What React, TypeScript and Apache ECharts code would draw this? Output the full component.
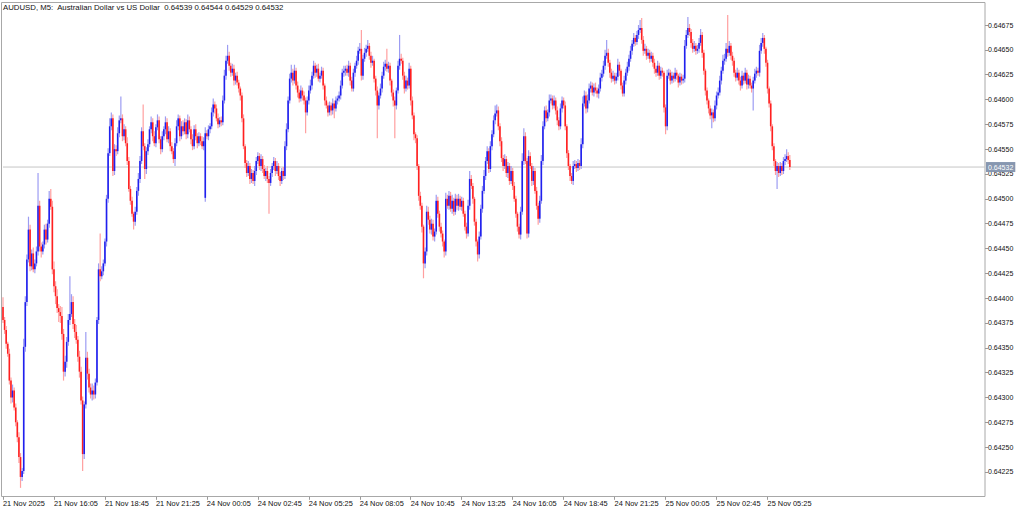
import React, { useEffect, useRef } from "react";
import * as echarts from "echarts";

// ---- data (prices in points, 1 point = 0.00001) ----
const TITLE = "AUDUSD, M5:  Australian Dollar vs US Dollar  0.64539 0.64544 0.64529 0.64532";
const FIRST_OPEN = 64391;
const MONDAY_OPEN = { index: 127, price: 64501 };

const closesPts = [
  64378, 64368, 64354, 64344, 64317, 64300, 64307, 64290, 64275, 64260,
  64240, 64220, 64226, 64351, 64396, 64439, 64469, 64432, 64445, 64429,
  64435, 64447, 64493, 64452, 64447, 64454, 64469, 64459, 64475, 64500,
  64492, 64429, 64412, 64402, 64390, 64386, 64382, 64364, 64326, 64336,
  64356, 64378, 64384, 64396, 64374, 64366, 64358, 64341, 64326, 64297,
  64243, 64293, 64340, 64324, 64310, 64303, 64307, 64303, 64315, 64378,
  64429, 64422, 64427, 64435, 64457, 64500, 64546, 64573, 64581, 64528,
  64550, 64548, 64566, 64579, 64581, 64563, 64570, 64556, 64538, 64510,
  64498, 64485, 64477, 64487, 64508, 64520, 64538, 64568, 64553, 64530,
  64548, 64555, 64570, 64577, 64563, 64556, 64572, 64579, 64560, 64550,
  64563, 64570, 64577, 64560, 64568, 64553, 64548, 64540, 64556, 64573,
  64581, 64563, 64573, 64568, 64577, 64565, 64579, 64570, 64560, 64553,
  64570, 64563, 64556, 64563, 64558, 64553, 64558, 64566, 64563, 64570,
  64573, 64587, 64595, 64591, 64581, 64575, 64579, 64577, 64599, 64624,
  64639, 64644, 64634, 64627, 64631, 64619, 64624, 64617, 64611, 64604,
  64581, 64553, 64536, 64526, 64533, 64520, 64526, 64518, 64528, 64538,
  64543, 64533, 64540, 64530, 64523, 64528, 64520, 64516, 64526, 64533,
  64538, 64528, 64533, 64523, 64518, 64528, 64523, 64553, 64570, 64599,
  64621, 64627, 64619, 64629, 64614, 64607, 64601, 64609, 64604, 64599,
  64587, 64599, 64609, 64614, 64624, 64634, 64627, 64631, 64621, 64624,
  64629, 64614, 64599, 64594, 64587, 64594, 64589, 64596, 64591, 64599,
  64601, 64604, 64614, 64627, 64629, 64631, 64627, 64634, 64619, 64611,
  64627, 64634, 64639, 64649, 64651, 64624, 64641, 64647, 64651, 64654,
  64644, 64637, 64639, 64621, 64609, 64594, 64604, 64611, 64624, 64633,
  64636, 64631, 64634, 64619, 64607, 64599, 64594, 64609, 64634, 64641,
  64639, 64624, 64611, 64619, 64614, 64631, 64599, 64584, 64565, 64561,
  64533, 64503, 64493, 64472, 64435, 64447, 64487, 64479, 64469, 64475,
  64462, 64467, 64498, 64485, 64472, 64465, 64457, 64447, 64500, 64493,
  64503, 64490, 64498, 64487, 64500, 64493, 64500, 64492, 64498, 64485,
  64472, 64465, 64493, 64520, 64513, 64500, 64477, 64457, 64444, 64462,
  64490, 64508, 64523, 64538, 64548, 64530, 64553, 64565, 64579, 64586,
  64589, 64573, 64558, 64541, 64533, 64540, 64526, 64533, 64518, 64528,
  64513, 64500, 64485, 64472, 64464, 64487, 64538, 64563, 64538, 64465,
  64543, 64533, 64518, 64528, 64508, 64493, 64480, 64498, 64538, 64573,
  64589, 64581, 64587, 64599, 64601, 64594, 64599, 64589, 64579, 64573,
  64591, 64599, 64594, 64573, 64546, 64533, 64523, 64518, 64533, 64535,
  64531, 64536, 64533, 64555, 64596, 64604, 64591, 64599, 64611, 64614,
  64607, 64612, 64609, 64606, 64611, 64622, 64626, 64634, 64644, 64647,
  64637, 64627, 64621, 64624, 64619, 64623, 64635, 64629, 64614, 64606,
  64619, 64627, 64633, 64641, 64649, 64656, 64662, 64658, 64665, 64670,
  64672, 64660, 64649, 64651, 64644, 64647, 64641, 64644, 64637, 64631,
  64627, 64634, 64624, 64629, 64627, 64592, 64573, 64624, 64627, 64619,
  64624, 64621, 64627, 64624, 64617, 64623, 64619, 64621, 64654, 64665,
  64672, 64668, 64657, 64651, 64654, 64649, 64651, 64657, 64665, 64647,
  64629, 64609, 64599, 64591, 64584, 64587, 64581, 64594, 64604, 64607,
  64619, 64629, 64639, 64641, 64651, 64647, 64654, 64644, 64639, 64627,
  64622, 64627, 64619, 64614, 64624, 64619, 64627, 64615, 64621, 64614,
  64611, 64619, 64626, 64629, 64627, 64649, 64657, 64662, 64651, 64637,
  64611, 64596, 64573, 64553, 64538, 64528, 64533, 64526, 64533, 64528,
  64538, 64540, 64543, 64539, 64532,
];

const upperWickPts = [
  10, 3, 4, 2, 5, 3, 6, 3, 4, 2,
  5, 4, 3, 8, 6, 5, 13, 5, 4, 6,
  4, 5, 33, 5, 4, 3, 5, 6, 4, 8,
  10, 6, 8, 5, 7, 4, 6, 9, 5, 6,
  5, 6, 38, 8, 6, 5, 7, 4, 6, 5,
  4, 3, 26, 6, 5, 4, 7, 5, 4, 3,
  6, 36, 5, 4, 3, 4, 5, 8, 6, 4,
  5, 4, 6, 5, 22, 4, 5, 3, 6, 4,
  3, 4, 2, 5, 4, 6, 5, 4, 27, 3,
  4, 5, 3, 6, 4, 5, 3, 6, 4, 3,
  5, 3, 6, 4, 5, 3, 4, 3, 5, 6,
  4, 3, 5, 6, 4, 3, 6, 4, 3, 5,
  4, 5, 3, 4, 3, 5, 4, 6, 3, 4,
  3, 5, 6, 3, 4, 5, 3, 4, 5, 6,
  5, 11, 4, 3, 5, 4, 3, 4, 3, 2,
  3, 4, 2, 3, 5, 3, 4, 3, 5, 4,
  4, 3, 5, 3, 4, 3, 5, 3, 4, 3,
  4, 3, 5, 3, 4, 3, 4, 5, 6, 4,
  5, 8, 4, 6, 3, 4, 3, 5, 3, 4,
  3, 4, 5, 6, 4, 5, 3, 4, 5, 3,
  4, 3, 2, 4, 3, 4, 3, 5, 3, 4,
  3, 4, 5, 4, 5, 3, 4, 5, 3, 4,
  4, 3, 5, 4, 6, 19, 4, 5, 4, 6,
  3, 4, 5, 2, 3, 4, 3, 5, 4, 5,
  4, 15, 4, 3, 2, 3, 4, 3, 5, 24,
  5, 3, 4, 5, 3, 6, 3, 4, 3, 2,
  3, 2, 4, 3, 2, 4, 6, 5, 4, 5,
  4, 3, 6, 4, 3, 4, 3, 2, 6, 4,
  5, 4, 6, 3, 5, 4, 5, 3, 4, 3,
  3, 4, 6, 8, 4, 3, 2, 3, 2, 5,
  4, 5, 6, 4, 5, 3, 5, 4, 5, 8,
  6, 4, 3, 4, 3, 5, 3, 4, 3, 5,
  3, 4, 3, 2, 3, 5, 8, 8, 4, 3,
  6, 4, 3, 5, 3, 4, 3, 5, 6, 5,
  4, 5, 3, 6, 4, 3, 5, 3, 4, 3,
  5, 4, 3, 4, 2, 3, 2, 3, 5, 4,
  3, 4, 3, 6, 7, 5, 4, 6, 5, 4,
  3, 4, 5, 3, 4, 5, 4, 5, 6, 13,
  4, 3, 4, 5, 3, 4, 6, 3, 2, 3,
  5, 4, 5, 4, 5, 4, 5, 3, 4, 5,
  8, 10, 4, 5, 3, 4, 3, 4, 3, 4,
  3, 5, 3, 4, 3, 2, 3, 6, 4, 3,
  4, 3, 5, 3, 2, 4, 3, 4, 6, 5,
  11, 4, 3, 4, 5, 3, 4, 5, 6, 3,
  3, 2, 3, 2, 3, 4, 3, 5, 4, 5,
  5, 4, 6, 5, 6, 34, 5, 3, 4, 3,
  3, 5, 3, 4, 5, 3, 5, 3, 4, 3,
  3, 4, 5, 4, 3, 6, 5, 5, 3, 2,
  3, 2, 3, 2, 3, 2, 4, 3, 4, 3,
  4, 5, 7, 4, 5,
];

const lowerWickPts = [
  3, 4, 5, 3, 4, 6, 5, 3, 4, 5,
  6, 11, 4, 3, 5, 4, 3, 5, 4, 3,
  4, 3, 4, 5, 6, 3, 4, 5, 3, 4,
  3, 5, 6, 8, 5, 10, 7, 6, 9, 5,
  6, 4, 5, 3, 5, 6, 4, 5, 6, 4,
  17, 5, 4, 6, 5, 4, 6, 5, 4, 3,
  4, 5, 3, 4, 3, 5, 4, 3, 4, 5,
  4, 5, 3, 4, 3, 5, 4, 3, 4, 3,
  4, 3, 8, 4, 3, 5, 4, 3, 4, 10,
  5, 4, 3, 4, 5, 3, 4, 3, 4, 5,
  3, 4, 5, 3, 4, 5, 3, 4, 7, 3,
  4, 5, 3, 4, 3, 5, 4, 3, 5, 4,
  3, 4, 5, 3, 4, 3, 4, 4, 3, 4,
  4, 3, 4, 5, 3, 4, 3, 4, 3, 3,
  4, 3, 5, 4, 3, 5, 4, 3, 4, 5,
  4, 3, 5, 4, 3, 5, 4, 3, 5, 4,
  3, 4, 5, 4, 3, 5, 4, 31, 3, 4,
  4, 5, 3, 4, 5, 3, 4, 3, 4, 3,
  3, 4, 5, 3, 4, 5, 4, 3, 5, 4,
  21, 3, 4, 3, 4, 3, 5, 4, 3, 4,
  3, 4, 5, 3, 4, 3, 5, 4, 10, 3,
  4, 3, 4, 3, 4, 5, 3, 4, 5, 3,
  3, 4, 3, 4, 3, 5, 4, 3, 4, 3,
  4, 5, 3, 4, 5, 33, 4, 3, 4, 3,
  4, 3, 4, 5, 4, 6, 33, 4, 3, 4,
  3, 4, 5, 3, 4, 3, 5, 4, 6, 5,
  4, 5, 4, 6, 15, 5, 4, 5, 4, 5,
  4, 5, 3, 4, 5, 4, 5, 6, 4, 3,
  4, 3, 5, 4, 3, 4, 5, 3, 4, 3,
  4, 5, 3, 4, 3, 5, 4, 5, 7, 4,
  3, 4, 3, 4, 3, 4, 3, 4, 3, 4,
  3, 4, 5, 4, 5, 3, 4, 5, 4, 3,
  4, 3, 4, 5, 4, 5, 3, 4, 3, 5,
  4, 3, 5, 4, 3, 4, 6, 4, 3, 4,
  3, 4, 3, 4, 3, 4, 3, 4, 5, 4,
  3, 4, 3, 4, 5, 4, 5, 3, 4, 3,
  4, 3, 4, 3, 4, 3, 5, 4, 3, 4,
  3, 4, 3, 4, 5, 3, 4, 3, 4, 3,
  4, 5, 4, 3, 4, 3, 4, 5, 4, 3,
  3, 4, 3, 4, 3, 4, 3, 4, 3, 4,
  3, 4, 5, 3, 4, 3, 4, 3, 4, 5,
  4, 3, 4, 3, 4, 5, 8, 4, 3, 4,
  3, 4, 3, 4, 5, 3, 4, 3, 4, 3,
  3, 4, 5, 4, 3, 4, 3, 4, 3, 5,
  4, 5, 4, 5, 4, 13, 4, 3, 4, 3,
  3, 4, 3, 4, 3, 4, 3, 4, 5, 4,
  4, 3, 4, 5, 3, 4, 3, 5, 4, 3,
  4, 22, 3, 4, 3, 4, 3, 4, 5, 4,
  5, 4, 5, 4, 5, 4, 18, 4, 3, 4,
  3, 4, 3, 4, 3,
];

const TIME_LABELS = [
  "21 Nov 2025", "21 Nov 16:05", "21 Nov 18:45", "21 Nov 21:25",
  "24 Nov 00:05", "24 Nov 02:45", "24 Nov 05:25", "24 Nov 08:05",
  "24 Nov 10:45", "24 Nov 13:25", "24 Nov 16:05", "24 Nov 18:45",
  "24 Nov 21:25", "25 Nov 00:05", "25 Nov 02:45", "25 Nov 05:25",
];
const BARS_PER_LABEL = 32;

const PRICE_MIN = 0.642;
const PRICE_MAX = 0.647;
const PRICE_STEP = 0.00025;

// ---- styles ----
const BULL_BODY = "#2020ee";
const BULL_WICK = "#9c9cf2";
const BEAR_BODY = "#ff2020";
const BEAR_WICK = "#ff9f9f";
const DOJI = "#9a9a9a";
const FONT = "'Liberation Sans', Arial, sans-serif";

const P = 100000;

function buildCandles() {
  return closesPts.map((c, i) => {
    const o =
      i === 0 ? FIRST_OPEN : i === MONDAY_OPEN.index ? MONDAY_OPEN.price : closesPts[i - 1];
    const h = Math.max(o, c) + upperWickPts[i];
    const l = Math.min(o, c) - lowerWickPts[i];
    return [i, o / P, c / P, l / P, h / P];
  });
}

export default function App() {
  const ref = useRef<HTMLDivElement>(null);

  useEffect(() => {
    if (!ref.current) return;
    const chart = echarts.init(ref.current, undefined, { renderer: "svg" });
    const candles = buildCandles();
    const last = candles[candles.length - 1][2] as number;

    const gridLeft = 1;
    const gridRight = 39;
    const plotWidth = 1024 - gridLeft - gridRight;
    const barSpacing = 1.596;
    const xMax = plotWidth / barSpacing;
    const labelValues = TIME_LABELS.map((_, k) => k * BARS_PER_LABEL);

    chart.setOption({
      animation: false,
      backgroundColor: "#ffffff",
      title: {
        text: TITLE,
        left: 3,
        top: 3,
        padding: 0,
        textStyle: { fontSize: 7.8, fontWeight: "normal", color: "#111", fontFamily: FONT },
      },
      grid: { left: gridLeft, right: gridRight, top: 0.17, bottom: 14.2 },
      xAxis: {
        type: "value",
        min: 0,
        max: xMax,
        axisLine: { show: false, onZero: false },
        splitLine: { show: false },
        axisTick: {
          show: true,
          customValues: labelValues,
          length: 3,
          lineStyle: { color: "#9a9a9a" },
        },
        axisLabel: {
          customValues: labelValues,
          align: "left",
          margin: 3,
          fontSize: 7.4,
          color: "#111",
          fontFamily: FONT,
          formatter: (v: number) => TIME_LABELS[Math.round(v / BARS_PER_LABEL)] ?? "",
        },
      },
      yAxis: {
        type: "value",
        position: "right",
        min: PRICE_MIN,
        max: PRICE_MAX,
        interval: PRICE_STEP,
        axisLine: { show: false, onZero: false },
        splitLine: { show: false },
        axisTick: { show: true, length: 3, lineStyle: { color: "#9a9a9a" } },
        axisLabel: {
          margin: 3,
          fontSize: 7,
          color: "#111",
          fontFamily: FONT,
          showMinLabel: false,
          showMaxLabel: false,
          formatter: (v: number) => v.toFixed(5),
        },
      },
      graphic: [
        {
          type: "rect",
          shape: { x: 1.5, y: 2.5, width: 983.5, height: 494 },
          style: { fill: "none", stroke: "#a8a8a8", lineWidth: 1 },
          z: -1,
          silent: true,
        },
      ],
      series: [
        {
          type: "line",
          data: [
            [0, last],
            [xMax, last],
          ],
          symbol: "none",
          silent: true,
          z: 1,
          lineStyle: { color: "#c6c6c6", width: 1 },
          endLabel: {
            show: true,
            formatter: () => last.toFixed(5),
            color: "#ffffff",
            backgroundColor: "#8797b0",
            fontSize: 7,
            fontFamily: FONT,
            padding: [2, 2, 1, 2],
            distance: 1,
          },
        },
        {
          type: "custom",
          z: 2,
          data: candles,
          encode: { x: 0, y: [1, 2, 3, 4] },
          renderItem: (_params: any, api: any) => {
            const i = api.value(0);
            const o = api.value(1);
            const c = api.value(2);
            const l = api.value(3);
            const h = api.value(4);
            const pO = api.coord([i, o]);
            const pC = api.coord([i, c]);
            const pL = api.coord([i, l]);
            const pH = api.coord([i, h]);
            const x = pO[0];
            const bull = c > o;
            const bear = c < o;
            const body = bull ? BULL_BODY : bear ? BEAR_BODY : DOJI;
            const wick = bull ? BULL_WICK : bear ? BEAR_WICK : "#c8c8c8";
            const top = Math.min(pO[1], pC[1]);
            const hgt = Math.max(1.2, Math.abs(pO[1] - pC[1]));
            return {
              type: "group",
              children: [
                {
                  type: "line",
                  shape: { x1: x, y1: pH[1], x2: x, y2: pL[1] },
                  style: { stroke: wick, lineWidth: 1.2 },
                },
                {
                  type: "rect",
                  shape: { x: x - 0.8, y: top, width: 1.6, height: hgt },
                  style: { fill: body },
                },
              ],
            };
          },
        },
      ],
    });

    return () => chart.dispose();
  }, []);

  return (
    <div
      ref={ref}
      style={{ position: "fixed", left: 0, top: 0, width: 1024, height: 511, background: "#fff" }}
    />
  );
}
